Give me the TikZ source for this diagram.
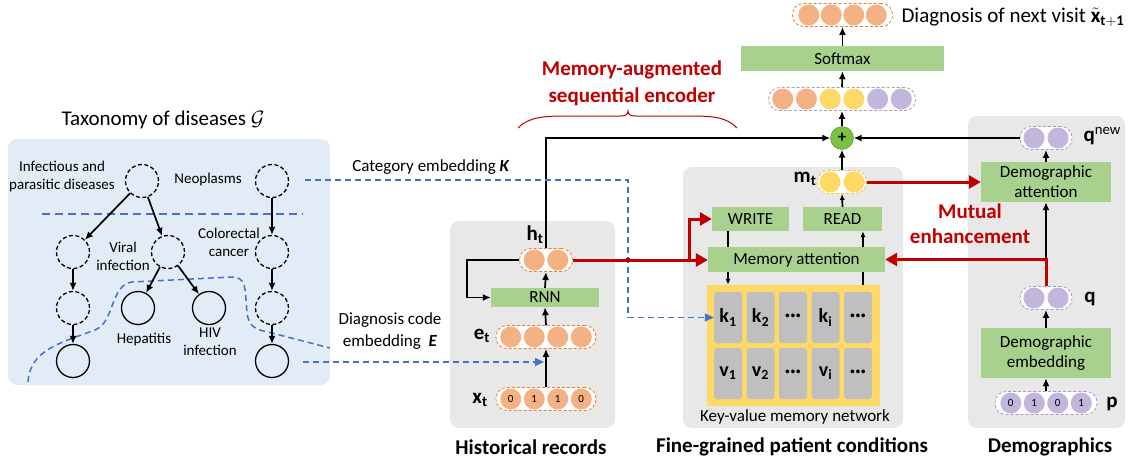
\documentclass[tikz,border=0pt]{standalone}
\usepackage{fontspec}
\setmainfont{Carlito}
\usepackage{amsmath}
\usepackage{amssymb}
\usepackage{bm}
\usetikzlibrary{positioning, arrows.meta}

\definecolor{panelgray}{HTML}{E8E8E8}
\definecolor{panelblue}{HTML}{E1ECF7}
\definecolor{boxgreen}{HTML}{A9D18E}
\definecolor{orangefill}{HTML}{F4B183}
\definecolor{orangeline}{HTML}{ED7D31}
\definecolor{yellowfill}{HTML}{FFD966}
\definecolor{yellowline}{HTML}{F2C14E}
\definecolor{purplefill}{HTML}{C3B6DD}
\definecolor{purpleline}{HTML}{A898CC}
\definecolor{grayline}{HTML}{A6A6A6}
\definecolor{cellgray}{HTML}{BFBFBF}
\definecolor{myred}{HTML}{C00000}
\definecolor{myblue}{HTML}{4472C4}
\definecolor{plusgreen}{HTML}{7CC242}
\definecolor{plusdark}{HTML}{4E8A2A}

\tikzset{
  panel/.style={fill=panelgray, rounded corners=9pt},
  greenbox/.style={rectangle, fill=boxgreen, inner sep=0pt, align=center, font=\fontsize{17}{20}\selectfont},
  pill/.style={rectangle, draw=#1, dash pattern=on 3pt off 2pt, rounded corners=11pt, fill=white, minimum height=23pt, inner sep=0pt, line width=0.8pt},
  ball/.style={circle, fill=#1, minimum size=21pt, inner sep=0pt, font=\fontsize{11}{11}\selectfont},
  taxo/.style={circle, draw, line width=1.3pt, minimum size=33pt, inner sep=0pt},
  taxodash/.style={taxo, dash pattern=on 4pt off 2.5pt},
  cellbox/.style={rectangle, fill=cellgray, rounded corners=3pt, minimum width=28pt, minimum height=51pt, inner sep=0pt, font=\fontsize{20}{20}\selectfont\bfseries},
  arr/.style={-{Latex[length=8pt,width=7pt]}, line width=1.7pt},
  smallarr/.style={-{Latex[length=6pt,width=5pt]}, line width=1.7pt},
  redarr/.style={draw=myred, line width=3pt, -{Triangle[length=12pt,width=13pt]}},
  bluedash/.style={draw=myblue, line width=1.6pt, dash pattern=on 6pt off 4pt, -{Triangle[length=9pt,width=8pt]}},
  lbl/.style={font=\fontsize{17}{22}\selectfont, align=center},
  taxolbl/.style={font=\fontsize{15}{18}\selectfont, align=center},
  sect/.style={font=\fontsize{21}{25}\selectfont\bfseries, align=center},
  vlbl/.style={font=\fontsize{21}{25}\selectfont\bfseries},
}

\begin{document}
\begin{tikzpicture}[x=1pt, y=-1pt]
\useasboundingbox (0,0) rectangle (1135,464);

% --- Taxonomy of diseases ---
\fill[panelblue, rounded corners=9pt] (8,139) rectangle (330,385);
\node[font=\fontsize{21}{25}\selectfont] (taxtitle) at (163,120) {Taxonomy of diseases $\mathcal{G}$};
\draw[myblue, line width=1.2pt, dash pattern=on 8pt off 5pt] (42,214) -- (303,214);
\draw[myblue, line width=1.5pt, dash pattern=on 6pt off 4pt]
  (28,382) .. controls (30,350) and (60,343) .. (95,330)
  .. controls (115,322) and (110,285) .. (132,282) -- (232,277)
  .. controls (245,277) and (245,287) .. (246,300) -- (247,313)
  .. controls (249,328) and (258,330) .. (268,332) -- (330,348);
\node[taxodash] (inf) at (142,181) {};
\node[taxodash] (neo) at (272,181) {};
\node[taxodash] (l1) at (73,252) {};
\node[taxodash] (viral) at (168,252) {};
\node[taxodash] (colo) at (272,252) {};
\node[taxodash] (l2) at (73,308) {};
\node[taxo] (hep) at (138,308) {};
\node[taxo] (hiv) at (209,308) {};
\node[taxodash] (c2) at (272,308) {};
\node[taxo] (l3) at (73,361) {};
\node[taxo] (c3) at (272,361) {};
\node[taxolbl] (inflbl) at (62,176) {Infectious and\\parasitic diseases};
\node[taxolbl] (neolbl) at (208,179) {Neoplasms};
\node[taxolbl] (virlbl) at (123,256) {Viral\\infection};
\node[taxolbl] (cololbl) at (229,242) {Colorectal\\cancer};
\node[taxolbl] (heplbl) at (144,340) {Hepatitis};
\node[taxolbl] (hivlbl) at (210,342) {HIV\\infection};
\draw[arr] (inf) -- (l1);
\draw[arr] (inf) -- (viral);
\draw[arr] (viral) -- (hep);
\draw[arr] (viral) -- (hiv);
\draw[arr] (l1) -- (l2);
\draw[arr] (l2) -- (l3);
\draw[arr] (neo) -- (colo);
\draw[arr] (colo) -- (c2);
\draw[arr] (c2) -- (c3);

% --- Historical records ---
\fill[panelgray, rounded corners=9pt] (450,221) rectangle (615,428);
\node[sect] (histlbl) at (531,447) {Historical records};
\node[greenbox, minimum width=108pt, minimum height=19pt] (rnn) at (545,297.5) {RNN};
\node[pill=orangeline, minimum width=53pt] (ht) at (546,260) {};
\foreach \i in {1,2}
  \node[ball=orangefill] (ht\i) at ({546+(\i-1.5)*23.5},260) {};
\node[pill=orangeline, minimum width=100pt] (et) at (546,337) {};
\foreach \i in {1,...,4}
  \node[ball=orangefill] (et\i) at ({546+(\i-2.5)*23.5},337) {};
\node[pill=orangeline, minimum width=100pt] (xt) at (546,399) {};
\foreach \i/\v in {1/0,2/1,3/1,4/0}
  \node[ball=orangefill] (xt\i) at ({546+(\i-2.5)*23.5},399) {\v};
\node[vlbl] (htlbl) at (535,235) {h\textsubscript{t}};
\node[vlbl] (etlbl) at (482,336) {e\textsubscript{t}};
\node[vlbl] (xtlbl) at (480,400) {x\textsubscript{t}};
\draw[arr] (xt.north) -- (et.south);
\draw[arr] (et.north) -- (rnn.south);
\draw[arr] (rnn.north) -- (ht.south);
\draw[arr] (ht.west) -- ++(-52,0) |- (rnn.west);

% --- Fine-grained patient conditions ---
\fill[panelgray, rounded corners=9pt] (683,167) rectangle (903,428);
\node[sect] (memlbl) at (792,447) {Fine-grained patient conditions};
\node[fill=yellowfill, minimum width=173pt, minimum height=121pt, inner sep=0pt] (kvgrid) at (793.5,345.5) {};
\foreach \i/\k/\v in {1/{k\textsubscript{1}}/{v\textsubscript{1}}, 2/{k\textsubscript{2}}/{v\textsubscript{2}}, 3/{···}/{···}, 4/{k\textsubscript{i}}/{v\textsubscript{i}}, 5/{···}/{···}} {
  \node[cellbox] (k\i) at ({728+(\i-1)*32.5},317.5) {\k};
  \node[cellbox] (v\i) at ({728+(\i-1)*32.5},373.5) {\v};
}
\node[lbl] (kvlbl) at (795,417) {Key-value memory network};
\node[greenbox, minimum width=77pt, minimum height=24pt] (write) at (750.5,219) {WRITE};
\node[greenbox, minimum width=79pt, minimum height=24pt] (read) at (842.5,219) {READ};
\node[greenbox, minimum width=177pt, minimum height=25pt] (mematt) at (796.5,259.5) {Memory attention};
\node[pill=yellowline, minimum width=49pt] (mt) at (842,182) {};
\foreach \i in {1,2}
  \node[ball=yellowfill] (mt\i) at ({842+(\i-1.5)*24},182) {};
\node[vlbl] (mtlbl) at (805,179) {m\textsubscript{t}};
\draw[line width=1.7pt] (k1 |- write.south) -- (k1 |- mematt.north);
\draw[smallarr] (k1 |- mematt.south) -- (k1 |- kvgrid.north);
\draw[line width=1.7pt] ([xshift=5pt]k5 |- kvgrid.north) -- ([xshift=5pt]k5 |- mematt.south);
\draw[smallarr] ([xshift=5pt]k5 |- mematt.north) -- ([xshift=5pt]k5 |- read.south);
\draw[smallarr] (read.north) -- (mt.south);

% --- Demographics ---
\fill[panelgray, rounded corners=9pt] (968,116) rectangle (1125,428);
\node[sect] (demolbl) at (1050,447) {Demographics};
\node[greenbox, minimum width=130pt, minimum height=40pt] (demoatt) at (1046,182) {Demographic\\attention};
\node[greenbox, minimum width=130pt, minimum height=50pt] (demoemb) at (1046,353) {Demographic\\embedding};
\node[pill=purpleline, minimum width=52pt] (qnew) at (1046,138) {};
\foreach \i in {1,2}
  \node[ball=purplefill] (qnew\i) at ({1046+(\i-1.5)*24},138) {};
\node[pill=purpleline, minimum width=52pt] (q) at (1046,298) {};
\foreach \i in {1,2}
  \node[ball=purplefill] (q\i) at ({1046+(\i-1.5)*24},298) {};
\node[pill=purpleline, minimum width=102pt] (p) at (1046,403) {};
\foreach \i/\v in {1/0,2/1,3/0,4/1}
  \node[ball=purplefill] (p\i) at ({1046+(\i-2.5)*23.5},403) {\v};
\node[vlbl, anchor=west] (qnewlbl) at (1080,136) {q\textsuperscript{\mdseries new}};
\node[vlbl] (qlbl) at (1090,299) {q};
\node[vlbl] (plbl) at (1112,404) {p};
\draw[arr] (p.north) -- (demoemb.south);
\draw[arr] (demoemb.north) -- (q.south);
\draw[arr] (q.north) -- (demoatt.south);
\draw[arr] (demoatt.north) -- (qnew.south);

% --- Output ---
\node[circle, fill=plusgreen, draw=plusdark, minimum size=23pt, inner sep=0pt, font=\fontsize{17}{17}\selectfont\bfseries] (plus) at (842,138) {+};
\node[pill=grayline, minimum width=147pt] (concat) at (842,99) {};
\foreach \i/\c in {1/orangefill,2/orangefill,3/yellowfill,4/yellowfill,5/purplefill,6/purplefill}
  \node[ball=\c] (cc\i) at ({842+(\i-3.5)*23.7},99) {};
\node[greenbox, minimum width=203pt, minimum height=25pt] (softmax) at (842.5,58.5) {Softmax};
\node[pill=orangeline, minimum width=100pt] (out) at (842.5,15) {};
\foreach \i in {1,...,4}
  \node[ball=orangefill] (out\i) at ({842.5+(\i-2.5)*22.5},15) {};
\node[anchor=west, font=\fontsize{21}{25}\selectfont] (outlbl) at (898,17) {Diagnosis of next visit $\tilde{\mathbf{x}}_{\mathbf{t+1}}$};
\draw[arr] (ht.north) |- (plus.west);
\draw[arr] (qnew.west) -- (plus.east);
\draw[arr] (mt.north) -- (plus.south);
\draw[arr] (plus.north) -- (concat.south);
\draw[arr] (concat.north) -- (softmax.south);
\draw[arr] (softmax.north) -- (out.south);

% --- Encoder brace ---
\draw[myred, line width=1pt] (518,128) .. controls (528,117) and (545,116) .. (565,116) -- (620,116)
  .. controls (625,116) and (628,115) .. (628,111) .. controls (628,115) and (631,116) .. (636,116)
  -- (690,116) .. controls (712,116) and (727,117) .. (737,128);
\node[font=\fontsize{21}{27}\selectfont\bfseries, text=myred, align=center] (enclbl) at (632,83) {Memory-augmented\\sequential encoder};

% --- Embeddings from the taxonomy ---
\coordinate (kstart) at (305,180);
\coordinate (kturn) at (628,180);
\coordinate (estart) at (303,362);
\coordinate (eend) at (544,362);
\draw[bluedash] (kstart) -- (kturn) |- (k1.west);
\draw[bluedash] (estart) -- (eend);
\node[lbl] (klbl) at (431,167) {Category embedding \textbf{\textit{K}}};
\node[lbl] (elbl) at (390,331) {Diagnosis code\\embedding~ \textbf{\textit{E}}};

% --- Mutual enhancement ---
\coordinate (redsplit) at (689,260);
\draw[redarr] (ht.east) -- (ht.east -| mematt.west);
\draw[redarr] (redsplit) |- (write.west);
\fill[myred] (628,260) circle (2.5pt);
\draw[redarr] (mt.east) -- (demoatt.west);
\draw[redarr] (q.north) |- (mematt.east);
\node[font=\fontsize{21}{25}\selectfont\bfseries, text=myred, align=center] (mutlbl) at (970,224) {Mutual\\enhancement};
\end{tikzpicture}
\end{document}
